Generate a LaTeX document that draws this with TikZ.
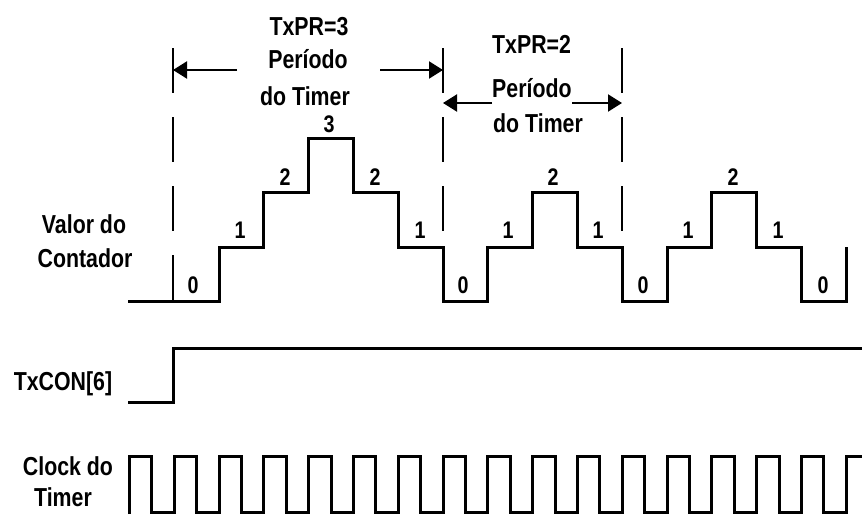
\documentclass[tikz,border=0pt]{standalone}
\usepackage{fontspec}
\setmainfont{Liberation Sans}[FakeStretch=0.82]
\usetikzlibrary{arrows.meta}
\begin{document}
\begin{tikzpicture}[x=1pt,y=-1pt,
  lbl/.style={font=\fontsize{26}{30}\selectfont\bfseries, inner sep=0pt},
  dig/.style={font=\fontsize{24}{28}\selectfont\bfseries, inner sep=0pt},
  sig/.style={line width=3pt, line join=miter},
  guide/.style={line width=2pt, dash pattern=on 45pt off 24pt},
  dim/.style={line width=2pt, -{Triangle[length=14pt,width=17pt]}}]
\useasboundingbox (0,0) rectangle (862,514);

% left labels
\node[lbl, anchor=base] (v1) at (84,233) {Valor do};
\node[lbl, anchor=base] (v2) at (85,267) {Contador};
\node[lbl, anchor=base] (tc) at (63,390) {TxCON[6]};
\node[lbl, anchor=base] (c1) at (68,475) {Clock do};
\node[lbl, anchor=base] (c2) at (63,506) {Timer};

% top labels, group 1
\node[lbl, anchor=base] (p1a) at (309,35) {TxPR=3};
\node[lbl, anchor=base] (p1b) at (308,68) {Período};
\node[lbl, anchor=base] (p1c) at (305,105) {do Timer};
% group 2
\node[lbl, anchor=base west] (p2a) at (492,53) {TxPR=2};
\node[lbl, anchor=base west] (p2b) at (492,97) {Período};
\node[lbl, anchor=base west] (p2c) at (493,132) {do Timer};

% guide lines
\coordinate (g1t) at (173,48); \coordinate (g1b) at (173,301);
\coordinate (g2t) at (443,48); \coordinate (g2b) at (443,247);
\coordinate (g3t) at (622,48); \coordinate (g3b) at (622,247);
\draw[guide] (g1t) -- (g1b);
\draw[guide] (g2t) -- (g2b);
\draw[guide] (g3t) -- (g3b);

% dimension arrows
\coordinate (a1l) at (237,70);  \coordinate (a1lt) at (173,70);
\coordinate (a1r) at (380,70);  \coordinate (a1rt) at (443,70);
\coordinate (a2l) at (492,103); \coordinate (a2lt) at (443,103);
\coordinate (a2r) at (572,103); \coordinate (a2rt) at (622,103);
\draw[dim] (a1l) -- (a1lt);
\draw[dim] (a1r) -- (a1rt);
\draw[dim] (a2l) -- (a2lt);
\draw[dim] (a2r) -- (a2rt);

% counter staircase
\draw[sig] (128,301) -- (219,301) -- (219,247) -- (263.8,247) -- (263.8,192)
  -- (308.6,192) -- (308.6,138) -- (353.4,138) -- (353.4,192) -- (398.2,192)
  -- (398.2,247) -- (443,247) -- (443,301) -- (487.8,301) -- (487.8,247)
  -- (532.6,247) -- (532.6,192) -- (577.4,192) -- (577.4,247) -- (622.2,247)
  -- (622.2,301) -- (667,301) -- (667,247) -- (711.8,247) -- (711.8,192)
  -- (756.6,192) -- (756.6,247) -- (801.4,247) -- (801.4,301) -- (846.2,301)
  -- (846.2,247);

% counter values
\node[dig] (d1) at (193,285) {0};
\node[dig] (d2) at (240,230) {1};
\node[dig] (d3) at (285,177) {2};
\node[dig] (d4) at (329,124) {3};
\node[dig] (d5) at (375,177) {2};
\node[dig] (d6) at (420,230) {1};
\node[dig] (d7) at (463,285) {0};
\node[dig] (d8) at (508,230) {1};
\node[dig] (d9) at (553,177) {2};
\node[dig] (d10) at (598,230) {1};
\node[dig] (d11) at (643,285) {0};
\node[dig] (d12) at (688,230) {1};
\node[dig] (d13) at (733,177) {2};
\node[dig] (d14) at (778,230) {1};
\node[dig] (d15) at (823,285) {0};

% TxCON[6]
\draw[sig] (128,402) -- (173,402) -- (173,348) -- (862,348);

% clock
\draw[sig] (129.4,514) \foreach \n in {-2,...,13} {
   -- ({219+44.8*\n},512) -- ({219+44.8*\n},456) -- ({241.4+44.8*\n},456) -- ({241.4+44.8*\n},512) }
   -- (846.2,512) -- (846.2,456) -- (862,456);
\end{tikzpicture}
\end{document}
